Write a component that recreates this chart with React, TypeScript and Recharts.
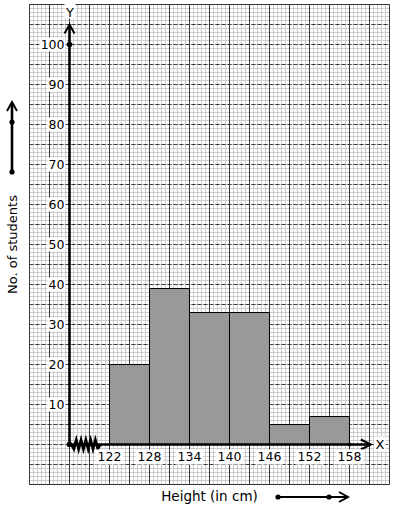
import React from 'react';
import {
  ComposedChart,
  Bar,
  XAxis,
  YAxis,
  CartesianGrid,
  ReferenceLine,
  ReferenceDot,
} from 'recharts';

// ---- data ----
const classLower = [122, 128, 134, 140, 146, 152];
const classUpper = [128, 134, 140, 146, 152, 158];
const frequencies = [20, 39, 33, 33, 5, 7];
const xTickLabels = [122, 128, 134, 140, 146, 152, 158];
const yTickLabels = [10, 20, 30, 40, 50, 60, 70, 80, 90, 100];

const xDomain: [number, number] = [110, 164];
const yDomain: [number, number] = [-10, 110];
const originX = 116;
const xArrowEnd = 161.2;
const yArrowEnd = 105;
const breakStart = 116.3;
const breakEnd = 120.6;

const data = classLower.map((lo, i) => ({
  mid: (lo + classUpper[i]) / 2,
  freq: frequencies[i],
}));

// graph-paper grid positions (every small square / every big square)
const minorX: number[] = [];
for (let i = 0; i <= 90; i++) minorX.push(Math.round((xDomain[0] + i * 0.6) * 100) / 100);
const majorX: number[] = [];
for (let i = 0; i <= 18; i++) majorX.push(xDomain[0] + i * 3);
const minorY: number[] = [];
for (let i = 0; i <= 120; i++) minorY.push(yDomain[0] + i);
const majorY: number[] = [];
for (let i = 0; i <= 24; i++) majorY.push(yDomain[0] + i * 5);

const FONT = 'DejaVu Sans';

const applyScale = (s: any, v: number): number | null => {
  if (!s) return null;
  if (typeof s === 'function') return s(v);
  if (typeof s.map === 'function') return s.map(v);
  if (typeof s.scale === 'function') return s.scale(v);
  return null;
};

const xCoords = (vals: number[]) => (p: any) => {
  const s = p?.xAxis?.scale;
  const out: number[] = [];
  for (const v of vals) {
    let px = applyScale(s, v);
    if (px == null || Number.isNaN(px)) {
      const off = p.offset;
      px = off.left + ((v - xDomain[0]) / (xDomain[1] - xDomain[0])) * off.width;
    }
    out.push(px as number);
  }
  return out;
};

const XTick = (props: any) => {
  const { x, y, payload } = props;
  const label = String(payload.value);
  const w = label.length * 7.6 + 5;
  return (
    <g>
      <rect x={x - w / 2} y={y - 35} width={w} height={15} fill="#fff" />
      <text x={x} y={y - 24} textAnchor="middle" fontSize={12.5} fill="#000" fontFamily={FONT}>
        {label}
      </text>
    </g>
  );
};

const YTick = (props: any) => {
  const { x, y, payload } = props;
  const label = String(payload.value);
  const w = label.length * 7.6 + 3;
  const right = x + 35;
  return (
    <g>
      <rect x={right - w + 1} y={y - 7} width={w} height={14} fill="#fff" />
      <text x={right} y={y + 4.5} textAnchor="end" fontSize={12.5} fill="#000" fontFamily={FONT}>
        {label}
      </text>
    </g>
  );
};

const YAxisArrow = (props: any) => {
  const { x1, y1, x2, y2 } = props;
  return (
    <g>
      <line x1={x1} y1={y1} x2={x2} y2={y2} stroke="#000" strokeWidth={2.6} />
      <polyline
        points={`${x2 - 5},${y2 + 9} ${x2},${y2} ${x2 + 5},${y2 + 9}`}
        fill="none"
        stroke="#000"
        strokeWidth={2}
      />
      <rect x={x2 - 5} y={y2 - 21} width={11} height={15} fill="#fff" />
      <text x={x2 + 0.5} y={y2 - 8} textAnchor="middle" fontSize={13} fill="#000" fontFamily={FONT}>
        Y
      </text>
    </g>
  );
};

const XAxisArrow = (props: any) => {
  const { x1, y1, x2, y2 } = props;
  return (
    <g>
      <line x1={x1} y1={y1} x2={x2} y2={y2} stroke="#000" strokeWidth={2.6} />
      <polyline
        points={`${x2 - 10},${y2 - 5} ${x2},${y2} ${x2 - 10},${y2 + 5}`}
        fill="none"
        stroke="#000"
        strokeWidth={2}
      />
      <rect x={x2 + 3} y={y2 - 8} width={12} height={15} fill="#fff" />
      <text x={x2 + 9} y={y2 + 4.5} textAnchor="middle" fontSize={13} fill="#000" fontFamily={FONT}>
        X
      </text>
    </g>
  );
};

const Zigzag = (props: any) => {
  const { x1, y1, x2 } = props;
  const n = 12;
  const step = (x2 - x1) / n;
  const pts: string[] = [`${x1},${y1}`];
  for (let i = 1; i < n; i++) {
    pts.push(`${x1 + i * step},${y1 + (i % 2 === 1 ? 4.5 : -4.5)}`);
  }
  pts.push(`${x2},${y1}`);
  return <polyline points={pts.join(' ')} fill="none" stroke="#000" strokeWidth={2.8} strokeLinejoin="miter" />;
};

const Dot = (r: number) => (props: any) => <circle cx={props.cx} cy={props.cy} r={r} fill="#000" />;

export default function App() {
  return (
    <div style={{ position: 'absolute', left: 0, top: 0, width: 394, height: 510, fontFamily: FONT, background: '#fff' }}>
      <ComposedChart
        width={394}
        height={510}
        data={data}
        margin={{ top: 4.5, right: 4.5, left: 0, bottom: 0 }}
        barCategoryGap={0}
        barGap={0}
      >
        {/* grid axes (hidden) */}
        <YAxis yAxisId="minor" type="number" domain={yDomain} ticks={minorY} interval={0} hide allowDataOverflow />
        <YAxis yAxisId="major" type="number" domain={yDomain} ticks={majorY} interval={0} hide allowDataOverflow />

        <CartesianGrid
          yAxisId="minor"
          stroke="#cbcbcb"
          strokeWidth={1}
          verticalCoordinatesGenerator={xCoords(minorX)}
        />
        <CartesianGrid
          yAxisId="major"
          horizontal={false}
          stroke="#3a3a3a"
          strokeWidth={1}
          verticalCoordinatesGenerator={xCoords(majorX)}
        />
        <CartesianGrid yAxisId="major" vertical={false} stroke="#3a3a3a" strokeWidth={1} strokeDasharray="4 2" />

        <XAxis
          xAxisId={0}
          type="number"
          dataKey="mid"
          domain={xDomain}
          ticks={xTickLabels}
          interval={0}
          allowDataOverflow
          height={25.5}
          axisLine={false}
          tickLine={false}
          tickSize={0}
          tickMargin={0}
          tick={<XTick />}
          label={{ value: 'Height (in cm)', position: 'insideBottom', offset: 9, fontSize: 13.5, fill: '#000' }}
        />
        <YAxis
          yAxisId={0}
          type="number"
          domain={yDomain}
          ticks={yTickLabels}
          interval={0}
          allowDataOverflow
          width={29.5}
          axisLine={false}
          tickLine={false}
          tickSize={0}
          tickMargin={0}
          tick={<YTick />}
          label={{ value: 'No. of students', angle: -90, position: 'center', dx: -2.5, fontSize: 13, fill: '#000' }}
        />

        <ReferenceLine y={yDomain[1]} stroke="#333" />
        <ReferenceLine y={yDomain[0]} stroke="#333" />

        <Bar dataKey="freq" fill="#999999" stroke="#000" strokeWidth={1} isAnimationActive={false} />

        <ReferenceLine
          segment={[{ x: originX, y: 0 }, { x: originX, y: yArrowEnd }]}
          shape={YAxisArrow}
        />
        <ReferenceLine
          segment={[{ x: originX, y: 0 }, { x: xArrowEnd, y: 0 }]}
          shape={XAxisArrow}
        />
        <ReferenceLine
          segment={[{ x: breakStart, y: 0 }, { x: breakEnd, y: 0 }]}
          shape={Zigzag}
        />
        <ReferenceDot x={originX} y={0} r={2.5} shape={Dot(2.8)} />
        <ReferenceDot x={originX} y={100} r={2.5} shape={Dot(2.8)} />
        <ReferenceDot x={classUpper[classUpper.length - 1]} y={0} r={2} shape={Dot(2)} />
      </ComposedChart>

      {/* decorative direction arrows */}
      <svg width={394} height={510} style={{ position: 'absolute', left: 0, top: 0, pointerEvents: 'none' }}>
        <line x1={12} y1={172} x2={12} y2={103} stroke="#000" strokeWidth={2.6} />
        <polyline points="7,111 12,102 17,111" fill="none" stroke="#000" strokeWidth={2} />
        <circle cx={12} cy={172} r={2.6} fill="#000" />
        <circle cx={12} cy={122} r={2.6} fill="#000" />

        <line x1={278} y1={497} x2={347} y2={497} stroke="#000" strokeWidth={2} />
        <polyline points="339,492 348,497 339,502" fill="none" stroke="#000" strokeWidth={2} />
        <circle cx={278} cy={497} r={2.6} fill="#000" />
        <circle cx={329} cy={497} r={2.6} fill="#000" />
      </svg>
    </div>
  );
}
